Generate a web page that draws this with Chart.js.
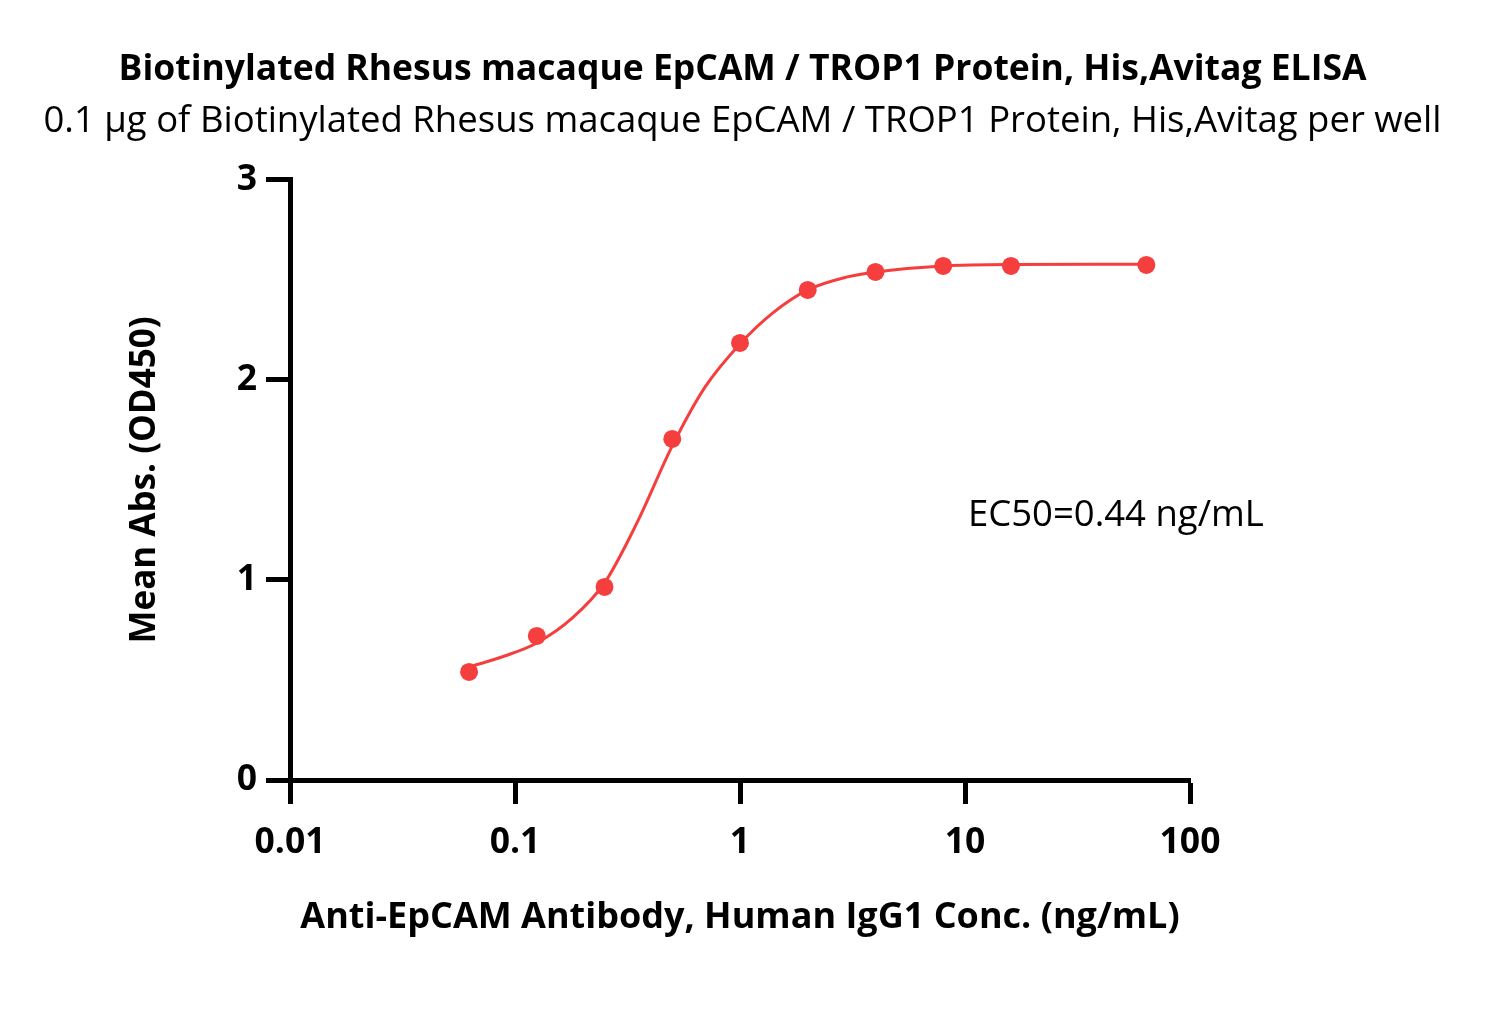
<!DOCTYPE html>
<html>
<head>
<meta charset="utf-8">
<script src="https://cdn.jsdelivr.net/npm/chart.js@4.4.1/dist/chart.umd.min.js"></script>
<style>
  body { margin: 0; background: #fff; }
</style>
</head>
<body>
<canvas id="elisa" width="1485" height="1035"></canvas>
<script>
/* Measured points: antibody concentration (ng/mL) vs mean OD450 */
const concentrations = [0.0625, 0.125, 0.25, 0.5, 1, 2, 4, 8, 16, 64];
const meanAbs = [0.54, 0.72, 0.965, 1.705, 2.185, 2.45, 2.54, 2.57, 2.57, 2.575];

/* Fitted curve */
const fitConc = [0.0625, 0.09, 0.125, 0.18, 0.25, 0.35, 0.5, 0.7, 1, 1.4, 2, 3, 4, 8, 16, 64];
const fitAbs = [0.565, 0.62, 0.685, 0.81, 0.985, 1.29, 1.67, 1.965, 2.18, 2.335, 2.45, 2.515, 2.54, 2.57, 2.577, 2.578];

const xTickValues = [0.01, 0.1, 1, 10, 100];
const yTickValues = [0, 1, 2, 3];
const xTickLabels = ['0.01', '0.1', '1', '10', '100'];

const ec50Label = 'EC50=0.44 ng/mL';

const red = 'rgb(245, 62, 62)';
const fontFamily = '"Open Sans", Lato, sans-serif';

Chart.defaults.font.family = fontFamily;
Chart.defaults.color = '#000';

/* Draws the EC50 text inside the plot */
const ec50Plugin = {
  id: 'ec50',
  afterDatasetsDraw(chart) {
    const ctx = chart.ctx;
    const x = chart.scales.x.getPixelForValue(10.3);
    const y = chart.scales.y.getPixelForValue(1.32);
    ctx.save();
    ctx.font = '36.5px ' + fontFamily;
    ctx.fillStyle = '#000';
    ctx.textAlign = 'left';
    ctx.textBaseline = 'middle';
    ctx.fillText(ec50Label, x, y);
    ctx.restore();
  }
};

const axisGrid = {
  drawOnChartArea: false,
  drawTicks: true,
  tickLength: 24,
  tickWidth: 5,
  tickColor: '#000'
};
const axisBorder = { display: true, width: 5, color: '#000' };

new Chart(document.getElementById('elisa'), {
  type: 'scatter',
  data: {
    datasets: [
      {
        label: 'Mean Abs.',
        data: concentrations.map((c, i) => ({ x: c, y: meanAbs[i] })),
        pointRadius: 9,
        pointBackgroundColor: red,
        pointBorderColor: red,
        pointBorderWidth: 0,
        showLine: false
      },
      {
        label: 'Fit',
        data: fitConc.map((c, i) => ({ x: c, y: fitAbs[i] })),
        showLine: true,
        pointRadius: 0,
        borderColor: red,
        borderWidth: 3,
        cubicInterpolationMode: 'monotone',
        fill: false
      }
    ]
  },
  options: {
    responsive: false,
    animation: false,
    events: [],
    layout: { padding: 0 },
    plugins: {
      legend: { display: false },
      tooltip: { enabled: false },
      title: {
        display: true,
        text: 'Biotinylated Rhesus macaque EpCAM / TROP1 Protein, His,Avitag ELISA',
        font: { size: 35.5, weight: 'bold', lineHeight: 1.2 },
        color: '#000',
        padding: { top: 49, bottom: 8.5 }
      },
      subtitle: {
        display: true,
        text: '0.1 μg of Biotinylated Rhesus macaque EpCAM / TROP1 Protein, His,Avitag per well',
        font: { size: 36.5, weight: 'normal', lineHeight: 1.2 },
        color: '#000',
        padding: { top: 0, bottom: 36 }
      }
    },
    scales: {
      x: {
        type: 'logarithmic',
        min: 0.01,
        max: 100,
        grid: axisGrid,
        border: axisBorder,
        afterBuildTicks: axis => {
          axis.ticks = xTickValues.map(v => ({ value: v }));
        },
        afterFit: axis => { axis.height = 255; },
        ticks: {
          autoSkip: false,
          maxRotation: 0,
          padding: 18,
          font: { size: 35.5, weight: 'bold' },
          callback: (value, index) => xTickLabels[index]
        },
        title: {
          display: true,
          text: 'Anti-EpCAM Antibody, Human IgG1 Conc. (ng/mL)',
          font: { size: 36, weight: 'bold', lineHeight: 1.2 },
          padding: { top: 0, bottom: 96 }
        }
      },
      y: {
        min: 0,
        max: 3,
        grid: axisGrid,
        border: axisBorder,
        afterBuildTicks: axis => {
          axis.ticks = yTickValues.map(v => ({ value: v }));
        },
        afterFit: axis => { axis.width = 290; },
        ticks: {
          padding: 9,
          font: { size: 35.5, weight: 'bold' }
        },
        title: {
          display: true,
          text: 'Mean Abs. (OD450)',
          font: { size: 35, weight: 'bold', lineHeight: 1.2 },
          padding: { top: 124, bottom: 0 }
        }
      },
      /* empty right-hand axis keeps the plot at its place while titles centre on the page */
      spacer: {
        type: 'linear',
        position: 'right',
        display: true,
        grid: { display: false },
        border: { display: false },
        ticks: { display: false },
        title: { display: false },
        afterFit: axis => { axis.width = 295; }
      }
    }
  },
  plugins: [ec50Plugin]
});
</script>
</body>
</html>
